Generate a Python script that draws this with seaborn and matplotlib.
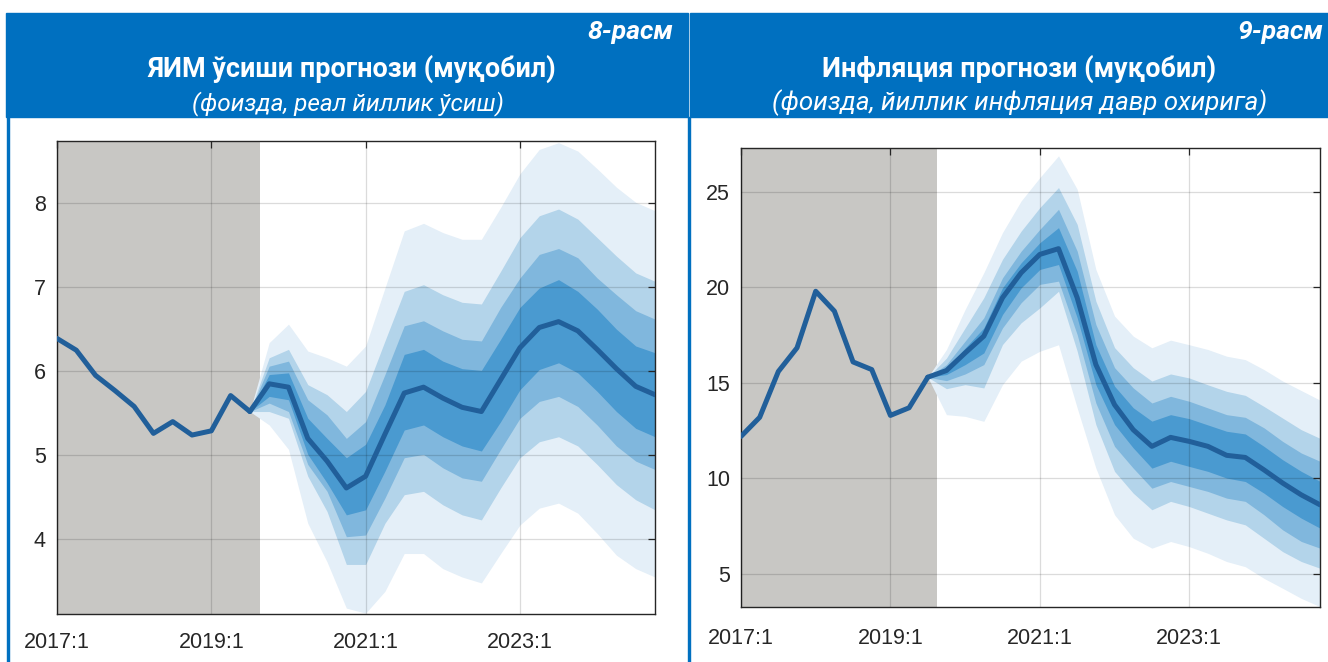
import numpy as np
import pandas as pd
import seaborn as sns
import matplotlib
matplotlib.use("Agg")
import matplotlib.pyplot as plt
from matplotlib.patches import Rectangle

# ---------------- data ----------------
x_tick_labels = ["2017:1", "2019:1", "2021:1", "2023:1"]
x_tick_pos = [0, 8, 16, 24]

# GDP growth (left)
gdp_hist = [6.39, 6.25, 5.95, 5.77, 5.58, 5.26, 5.40, 5.24, 5.29, 5.71, 5.52]
gdp_center = [5.52, 5.85, 5.81, 5.20, 4.93, 4.61, 4.75, 5.25, 5.74, 5.81, 5.68,
              5.57, 5.52, 5.90, 6.28, 6.52, 6.59, 6.48, 6.26, 6.03, 5.82, 5.72]
gdp_up4 = [5.52, 6.34, 6.56, 6.24, 6.16, 6.06, 6.30, 6.99, 7.67, 7.76, 7.65,
           7.57, 7.57, 7.95, 8.35, 8.64, 8.72, 8.62, 8.41, 8.19, 8.01, 7.91]
gdp_up3 = [5.52, 6.16, 6.26, 5.84, 5.72, 5.52, 5.76, 6.36, 6.95, 7.03, 6.91,
           6.82, 6.80, 7.19, 7.59, 7.85, 7.93, 7.81, 7.59, 7.37, 7.17, 7.07]
gdp_up2 = [5.52, 6.06, 6.12, 5.66, 5.48, 5.20, 5.40, 5.96, 6.54, 6.60, 6.48,
           6.38, 6.36, 6.76, 7.11, 7.39, 7.46, 7.35, 7.11, 6.91, 6.72, 6.62]
gdp_up1 = [5.52, 5.96, 5.98, 5.44, 5.20, 4.97, 5.13, 5.60, 6.20, 6.26, 6.12,
           6.03, 6.01, 6.38, 6.76, 6.99, 7.09, 6.95, 6.74, 6.50, 6.30, 6.22]
gdp_lo1 = [5.52, 5.70, 5.66, 5.01, 4.67, 4.29, 4.35, 4.81, 5.30, 5.36, 5.22,
           5.11, 5.05, 5.40, 5.78, 6.02, 6.10, 5.98, 5.76, 5.52, 5.32, 5.22]
gdp_lo2 = [5.52, 5.62, 5.52, 4.89, 4.57, 4.03, 4.05, 4.49, 4.97, 5.01, 4.85,
           4.73, 4.69, 5.07, 5.44, 5.64, 5.70, 5.58, 5.36, 5.11, 4.93, 4.83]
gdp_lo3 = [5.52, 5.52, 5.44, 4.75, 4.33, 3.70, 3.70, 4.19, 4.53, 4.57, 4.41,
           4.29, 4.23, 4.61, 4.97, 5.16, 5.22, 5.11, 4.89, 4.65, 4.47, 4.35]
gdp_lo4 = [5.52, 5.36, 5.07, 4.19, 3.73, 3.18, 3.12, 3.38, 3.83, 3.83, 3.65,
           3.55, 3.48, 3.83, 4.17, 4.37, 4.43, 4.31, 4.07, 3.81, 3.65, 3.55]
gdp_yticks = [4, 5, 6, 7, 8]

# Inflation (right)
inf_hist = [12.2, 13.2, 15.6, 16.84, 19.8, 18.76, 16.1, 15.7, 13.3, 13.7, 15.3]
inf_center = [15.3, 15.65, 16.57, 17.45, 19.46, 20.77, 21.73, 22.03, 19.46, 15.96, 13.86,
              12.55, 11.68, 12.15, 11.94, 11.68, 11.21, 11.10, 10.45, 9.76, 9.14, 8.62]
inf_up4 = [15.3, 16.75, 18.85, 20.77, 22.87, 24.53, 25.75, 26.89, 25.14, 20.94, 18.5,
           17.45, 16.84, 17.24, 17.0, 16.75, 16.4, 16.22, 15.7, 15.1, 14.6, 14.1]
inf_up3 = [15.3, 16.3, 17.88, 19.46, 21.47, 22.95, 24.18, 25.23, 23.3, 19.28, 16.85,
           15.8, 15.1, 15.47, 15.26, 14.9, 14.56, 14.35, 13.77, 13.16, 12.55, 12.1]
inf_up2 = [15.3, 15.96, 17.19, 18.41, 20.5, 21.9, 23.04, 24.09, 21.9, 18.06, 15.8,
           14.74, 13.95, 14.3, 14.04, 13.69, 13.34, 13.2, 12.65, 11.94, 11.33, 10.9]
inf_up1 = [15.3, 15.75, 16.83, 17.88, 19.98, 21.29, 22.34, 23.13, 20.85, 17.0, 14.83,
           13.7, 13.0, 13.34, 13.13, 12.8, 12.47, 12.33, 11.68, 10.98, 10.37, 9.85]
inf_lo1 = [15.3, 15.44, 15.96, 16.57, 18.58, 19.98, 20.94, 21.2, 18.41, 14.91, 12.82,
           11.6, 10.54, 10.9, 10.63, 10.37, 10.02, 9.84, 9.23, 8.53, 7.92, 7.4]
inf_lo2 = [15.3, 15.12, 15.47, 15.96, 17.88, 19.2, 20.16, 20.33, 17.53, 13.95, 11.68,
           10.54, 9.49, 9.84, 9.58, 9.32, 8.97, 8.8, 8.1, 7.31, 6.7, 6.35]
inf_lo3 = [15.3, 14.7, 14.91, 14.74, 17.01, 18.15, 18.93, 19.8, 16.66, 12.82, 10.37,
           9.23, 8.36, 8.8, 8.53, 8.18, 7.83, 7.57, 6.87, 6.17, 5.65, 5.3]
inf_lo4 = [15.3, 13.34, 13.25, 12.99, 14.91, 16.14, 16.66, 17.0, 13.69, 10.54, 8.1,
           6.87, 6.35, 6.7, 6.43, 6.08, 5.65, 5.38, 4.77, 4.25, 3.72, 3.29]
inf_yticks = [5, 10, 15, 20, 25]

titles = ["ЯИМ ўсиши прогнози (муқобил)", "Инфляция прогнози (муқобил)"]
subtitles = ["(фоизда, реал йиллик ўсиш)", "(фоизда, йиллик инфляция давр охирига)"]
fig_labels = ["8-расм", "9-расм"]

# ---------------- style ----------------
sns.set_style("white")
plt.rcParams["font.family"] = ["Liberation Sans", "DejaVu Sans"]

W, H = 1328, 662
fig = plt.figure(figsize=(W / 100, H / 100), dpi=100)

BLUE = "#0070c0"
SHADE = "#c8c7c4"
LINE = "#215f9a"
FAN = ["#e4eff8", "#b3d4ea", "#80b7dd", "#4a9ad0"]
HEAD_FONT = ["Roboto", "DejaVu Sans"]


def fx(px):
    return px / W


def fy(py):
    return 1 - py / H


# header boxes and borders
for x0, x1 in [(6, 687.5), (689.5, 1328)]:
    fig.patches.append(Rectangle((fx(x0), fy(117)), fx(x1 - x0), (117 - 13) / H,
                                 transform=fig.transFigure, color=BLUE, zorder=0))
for xb in [6.5, 687.5]:
    fig.patches.append(Rectangle((fx(xb), 0), fx(2), fy(117),
                                 transform=fig.transFigure, color=BLUE, zorder=0))

fig.canvas.draw()
renderer = fig.canvas.get_renderer()


def fit_text(x, y, s, target_w, ha, weight="normal", style="normal", size=16):
    t = fig.text(fx(x), fy(y), s, ha=ha, va="baseline", color="white",
                 fontsize=size, fontweight=weight, fontstyle=style, family=HEAD_FONT)
    w = t.get_window_extent(renderer=renderer).width
    t.set_fontsize(size * target_w / w)
    return t


fit_text(673, 39.5, fig_labels[0], 86, "right", weight="bold", style="italic")
fit_text(1323, 39.5, fig_labels[1], 86, "right", weight="bold", style="italic")
fit_text(352, 77, titles[0], 410, "center", weight="bold")
fit_text(1019, 77, titles[1], 395, "center", weight="bold")
fit_text(348, 110, subtitles[0], 313, "center", style="italic")
fit_text(1020, 110, subtitles[1], 496, "center", style="italic")


def draw_panel(rect, hist, center, ups, los, yticks, ylim, xpad):
    ax = fig.add_axes(rect)
    n_hist = len(hist)
    xh = np.arange(n_hist)
    xf = np.arange(n_hist - 1, n_hist - 1 + len(center))
    ax.axvspan(0, n_hist - 0.5, color=SHADE, lw=0, zorder=0)
    for up, lo, col in zip(ups, los, FAN):
        ax.fill_between(xf, lo, up, color=col, lw=0, zorder=1)
    df_h = pd.DataFrame({"x": xh, "y": hist})
    df_f = pd.DataFrame({"x": xf, "y": center})
    sns.lineplot(data=df_h, x="x", y="y", ax=ax, color=LINE, lw=3.6, zorder=3)
    sns.lineplot(data=df_f, x="x", y="y", ax=ax, color=LINE, lw=3.6, zorder=3)
    ax.set_xlim(0, 31)
    ax.set_ylim(*ylim)
    ax.set_xticks(x_tick_pos)
    ax.set_xticklabels(x_tick_labels)
    ax.set_yticks(yticks)
    ax.set_yticklabels([str(v) for v in yticks])
    ax.set_xlabel("")
    ax.set_ylabel("")
    ax.set_axisbelow(False)
    ax.grid(True, color="black", alpha=0.14, lw=0.9)
    for sp in ax.spines.values():
        sp.set_visible(True)
        sp.set_color("#262626")
        sp.set_linewidth(1.0)
    ax.tick_params(axis="both", direction="in", length=5, width=0.9, color="#262626",
                   top=True, right=True, labelsize=15.5, labelcolor="#262626")
    ax.tick_params(axis="y", pad=8)
    ax.tick_params(axis="x", pad=xpad)
    return ax


draw_panel([fx(57), fy(614), fx(655 - 57), (614 - 141) / H],
           gdp_hist, gdp_center,
           [gdp_up4, gdp_up3, gdp_up2, gdp_up1], [gdp_lo4, gdp_lo3, gdp_lo2, gdp_lo1],
           gdp_yticks, (3.11, 8.74), 13)
draw_panel([fx(741), fy(607), fx(1320 - 741), (607 - 148) / H],
           inf_hist, inf_center,
           [inf_up4, inf_up3, inf_up2, inf_up1], [inf_lo4, inf_lo3, inf_lo2, inf_lo1],
           inf_yticks, (3.27, 27.3), 15)

fig.savefig("out.png", dpi=100)
